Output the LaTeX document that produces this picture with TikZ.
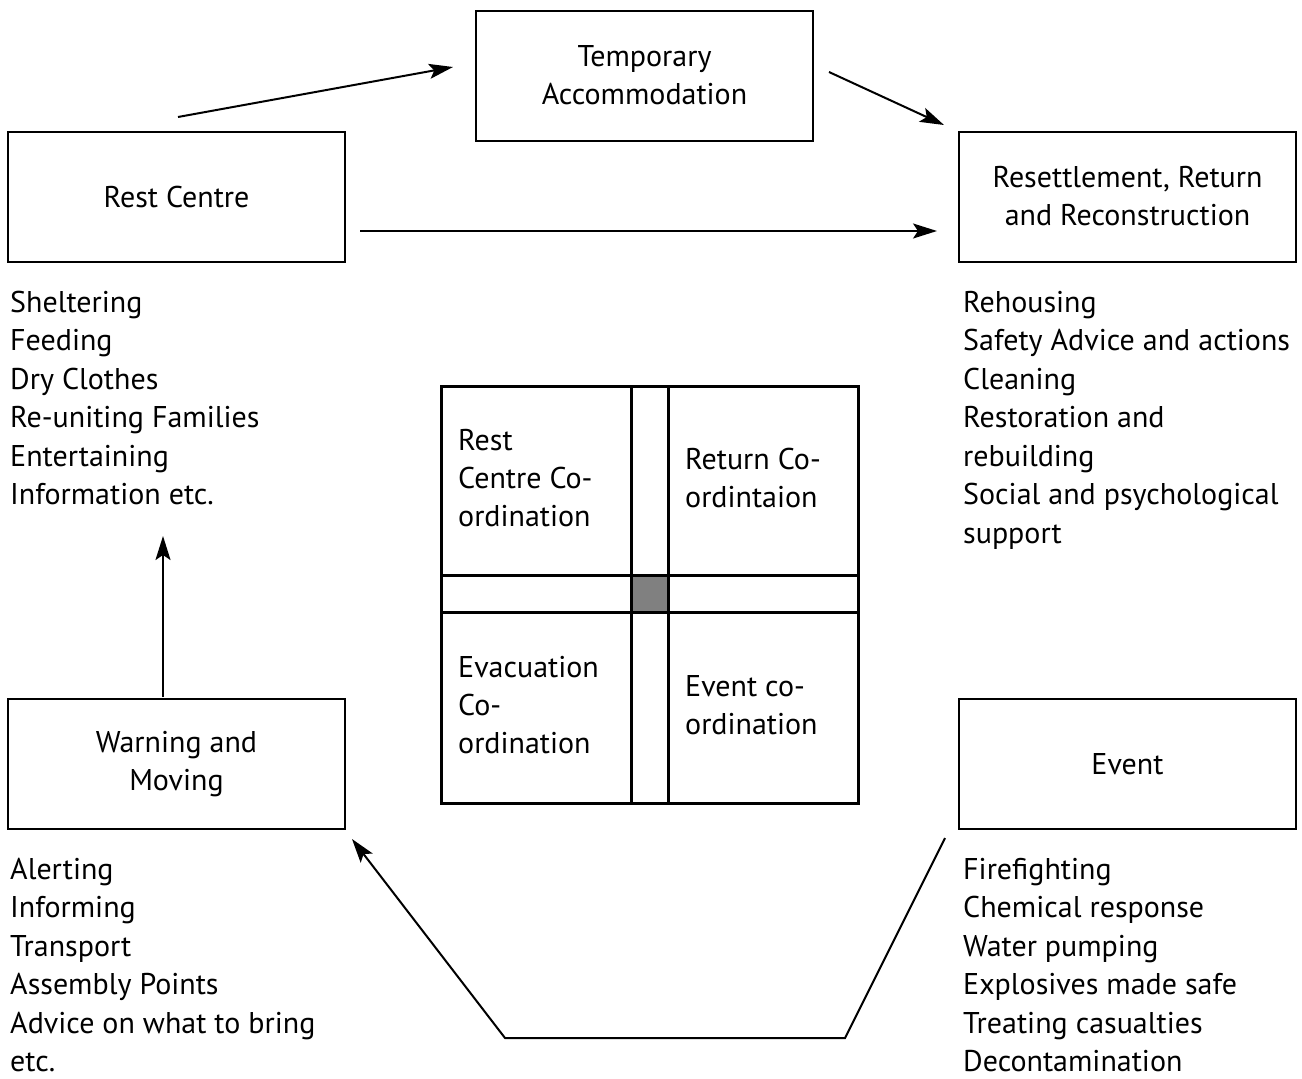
\documentclass[tikz,border=0pt]{standalone}
\usepackage{fontspec}
\setmainfont{PT Sans}
\usetikzlibrary{arrows.meta}
\begin{document}
\begin{tikzpicture}[x=1pt,y=-1pt,
  box/.style={draw,line width=2pt,minimum width=337pt,minimum height=130pt,align=center,inner sep=0pt,font=\fontsize{30}{38}\selectfont},
  listtxt/.style={anchor=base west,align=left,inner sep=0pt,font=\fontsize{30}{38.5}\selectfont},
  celltxt/.style={anchor=base west,align=left,inner sep=0pt,font=\fontsize{30}{38}\selectfont},
  arr/.style={line width=2pt,-{Stealth[length=24pt,width=15pt,inset=5pt]}},
  gridline/.style={line width=3pt}]
\useasboundingbox (0,0) rectangle (1302,1079);
% boxes
\node[box] (temp) at (644.5,75.5) {Temporary\\Accommodation};
\node[box] (rest) at (176.5,196.5) {Rest Centre};
\node[box] (reset) at (1127.5,196.5) {Resettlement, Return\\and Reconstruction};
\node[box] (warn) at (176.5,764) {Warning and\\Moving};
\node[box] (event) at (1127.5,764) {Event};
% lists (anchored at the baseline of the last line)
\node[listtxt] (restlist) at (10,504.5) {Sheltering\\Feeding\\Dry Clothes\\Re-uniting Families\\Entertaining\\Information etc.};
\node[listtxt] (resetlist) at (963,543) {Rehousing\\Safety Advice and actions\\Cleaning\\Restoration and\\rebuilding\\Social and psychological\\support};
\node[listtxt] (warnlist) at (10,1071.5) {Alerting\\Informing\\Transport\\Assembly Points\\Advice on what to bring\\etc.};
\node[listtxt] (eventlist) at (963,1071.5) {Firefighting\\Chemical response\\Water pumping\\Explosives made safe\\Treating casualties\\Decontamination};
% centre grid
\node[draw,gridline,fill={rgb,255:red,128;green,128;blue,128},minimum width=37pt,minimum height=37pt,inner sep=0pt] (hub) at (649.5,593.5) {};
\draw[gridline] (441,386) rectangle (858,803);
\draw[gridline] (631,386) -- (631,803);
\draw[gridline] (668,386) -- (668,803);
\draw[gridline] (441,575) -- (858,575);
\draw[gridline] (441,612) -- (858,612);
\node[celltxt] (c1) at (458,526) {Rest\\Centre Co-\\ordination};
\node[celltxt] (c2) at (685,507) {Return Co-\\ordintaion};
\node[celltxt] (c3) at (458,753) {Evacuation\\Co-\\ordination};
\node[celltxt] (c4) at (685,734) {Event co-\\ordination};
% arrows
\coordinate (a1s) at (178,117);
\coordinate (a1e) at (453,67);
\coordinate (a2s) at (829,72);
\coordinate (a2e) at (944,125);
\coordinate (a3s) at (360,231);
\coordinate (a3e) at (937,231);
\coordinate (a4s) at (163,697);
\coordinate (a4e) at (163,536);
\coordinate (p1) at (945,838);
\coordinate (p2) at (845,1038);
\coordinate (p3) at (505,1038);
\coordinate (p4) at (352,839);
\draw[arr] (a1s) -- (a1e);
\draw[arr] (a2s) -- (a2e);
\draw[arr] (a3s) -- (a3e);
\draw[arr] (a4s) -- (a4e);
\draw[arr] (p1) -- (p2) -- (p3) -- (p4);
\end{tikzpicture}
\end{document}
